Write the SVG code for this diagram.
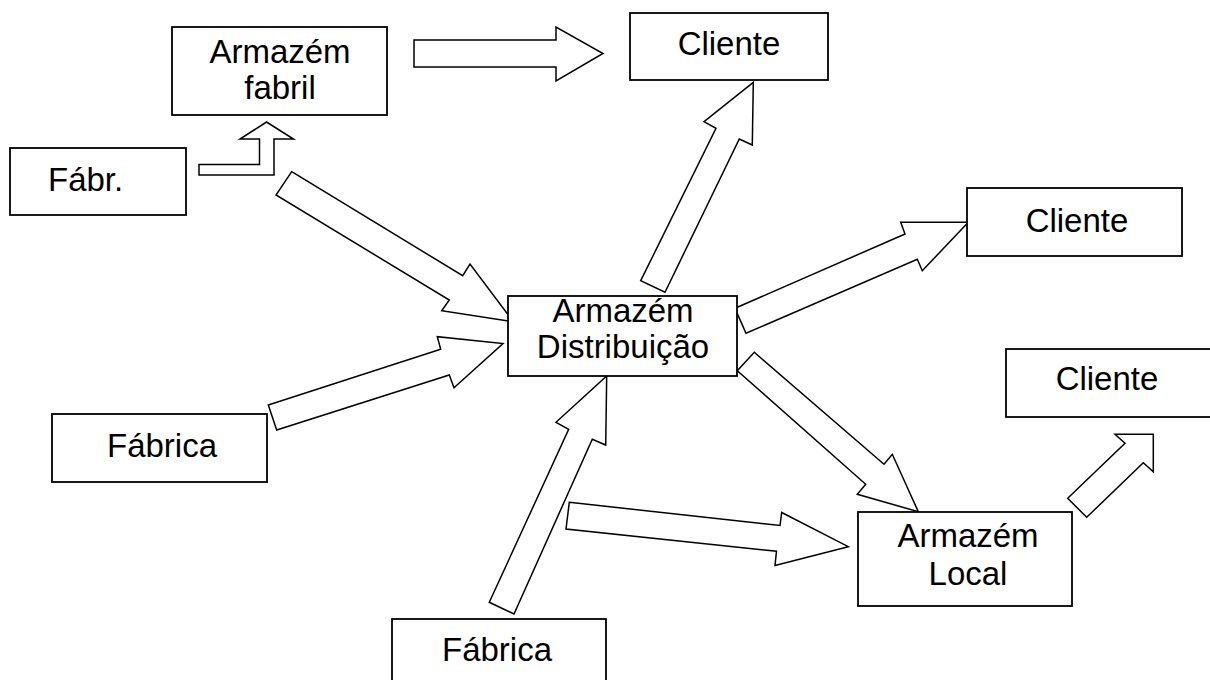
<svg xmlns="http://www.w3.org/2000/svg" width="1210" height="680" viewBox="0 0 1210 680">
  <style>
    .box { fill: #ffffff; stroke: #000000; stroke-width: 1.8; }
    .arrow { fill: #ffffff; stroke: #000000; stroke-width: 1.5; stroke-linejoin: miter; }
    .label { font-family: "Liberation Sans", Arial, sans-serif; font-size: 33px; fill: #000000; text-anchor: middle; }
  </style>
  <rect width="1210" height="680" fill="#ffffff"/>

  <!-- block arrows -->
  <g id="connectors">
    <!-- Armazém fabril to Cliente -->
    <polygon class="arrow" points="414,40 556,40 556,27 603,53.5 556,81 556,67 414,67"/>
    <!-- Fábr. to Armazém fabril (bent up) -->
    <polygon class="arrow" points="199,164.5 259.5,164.5 259.5,139 240,139 266.5,122 293.5,139 274,139 274,175 199,175"/>
    <!-- Fábr. to Armazém Distribuição -->
    <polygon class="arrow" points="291.7,171.7 462.7,275.7 470,264 513.3,321.7 441.7,310.7 449.3,300 276,195"/>
    <!-- Fábrica to Armazém Distribuição -->
    <polygon class="arrow" points="268.3,405 440.7,349.3 437.3,336.7 503,343.5 454,387.7 449.3,375 276.7,430"/>
    <!-- Armazém Distribuição to Cliente (top) -->
    <polygon class="arrow" points="640.7,280.7 716,128.3 704,121.7 753.3,82.3 752.3,145 739.3,139 665,292.3"/>
    <!-- Armazém Distribuição to Cliente (right) -->
    <polygon class="arrow" points="735,308.3 905,234 900.7,222.3 968.3,222.3 922.3,270.7 917.3,259.3 746,333.3"/>
    <!-- Armazém Distribuição to Armazém Local -->
    <polygon class="arrow" points="754.3,352.3 884,464.3 892.3,454.3 918.3,511.7 857.3,494.3 865.7,484.3 737.3,370.7"/>
    <!-- Fábrica (bottom) to Armazém Distribuição -->
    <polygon class="arrow" points="489.3,602.3 568.7,429.3 556,422.3 606.7,376 605.7,445 592.3,439.3 514,614"/>
    <!-- Fábrica (bottom) to Armazém Local -->
    <polygon class="arrow" points="569.3,502.3 780,525.5 781.7,512.5 848.3,546.7 775,565.5 776.5,551.2 566,529"/>
    <!-- Armazém Local to Cliente (lower) -->
    <polygon class="arrow" points="1067.7,498.3 1125,443.3 1115,434.3 1153.3,434.3 1153.3,471.7 1143.3,462.7 1086.7,517.3"/>
  </g>

  <g id="armazem-fabril">
    <rect class="box" x="172" y="27" width="215" height="88"/>
    <text class="label" x="280" y="63">Armazém</text>
    <text class="label" x="280" y="99">fabril</text>
  </g>

  <g id="cliente-topo">
    <rect class="box" x="630" y="13" width="198" height="67"/>
    <text class="label" x="729" y="55">Cliente</text>
  </g>

  <g id="fabr">
    <rect class="box" x="10" y="148" width="176" height="67"/>
    <text class="label" x="48" y="191" style="text-anchor:start">Fábr.</text>
  </g>

  <g id="cliente-direita">
    <rect class="box" x="967" y="188" width="215" height="68"/>
    <text class="label" x="1077" y="232">Cliente</text>
  </g>

  <g id="armazem-distribuicao">
    <rect class="box" x="508" y="296" width="229" height="80"/>
    <text class="label" x="623" y="322">Armazém</text>
    <text class="label" x="623" y="358">Distribuição</text>
  </g>

  <g id="cliente-baixo">
    <rect class="box" x="1006" y="349" width="205" height="68"/>
    <text class="label" x="1107" y="390">Cliente</text>
  </g>

  <g id="fabrica-esquerda">
    <rect class="box" x="52" y="414" width="215" height="68"/>
    <text class="label" x="162" y="457">Fábrica</text>
  </g>

  <g id="armazem-local">
    <rect class="box" x="858" y="512" width="214" height="94"/>
    <text class="label" x="968" y="547">Armazém</text>
    <text class="label" x="968" y="585">Local</text>
  </g>

  <g id="fabrica-baixo">
    <rect class="box" x="392" y="619" width="214" height="70"/>
    <text class="label" x="497" y="661">Fábrica</text>
  </g>
</svg>
